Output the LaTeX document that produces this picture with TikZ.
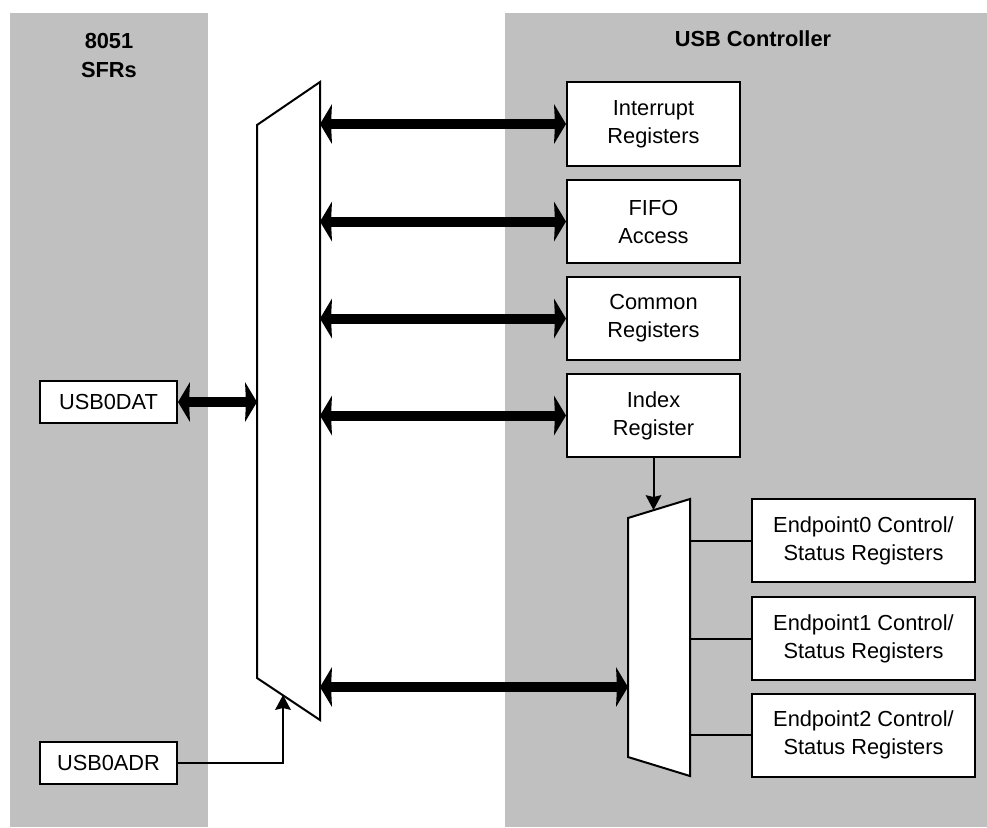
\documentclass[tikz,border=0pt]{standalone}
\usepackage{fontspec}
\setmainfont{Liberation Sans}
\usepackage{tikz}
\usetikzlibrary{arrows.meta}
\usetikzlibrary{positioning}
\definecolor{panelgray}{RGB}{192,192,192}
\tikzstyle{reg_box}=[draw=black, fill=white, line width=1pt, align=center,
    font=\fontsize{10.9}{14}\selectfont]
\tikzstyle{panel_title}=[align=center, font=\fontsize{10.9}{14.5}\selectfont\bfseries]
\tikzstyle{mux_shape}=[draw=black, fill=white, line width=1pt, line join=miter]
\tikzstyle{bus_arrow}=[line width=5pt,
    {Stealth[length=6pt, width=20pt, inset=0.5pt, line width=0pt]}-{Stealth[length=6pt, width=20pt, inset=0.5pt, line width=0pt]}]
\tikzstyle{sel_arrow}=[line width=1pt, -{Stealth[length=7.5pt, width=8pt, inset=1pt, line width=0pt]}]

\begin{document}
\begin{tikzpicture}[x=0.5pt, y=-0.5pt]
          \useasboundingbox (0,0) rectangle (987,827);
          \fill[panelgray] (10,13) rectangle (208,827);
          \fill[panelgray] (505,13) rectangle (987,827);
          \node[panel_title] (sfrtitle) at (109,55) {8051\\SFRs};
          \node[panel_title] (usbtitle) at (753,38.5) {USB Controller};
          % address mux on the SFR side
          \coordinate (bm_tl) at (257,125);
          \coordinate (bm_tr) at (320,82);
          \coordinate (bm_br) at (320,720);
          \coordinate (bm_bl) at (257,678);
          \coordinate (bm_sel) at (283,695);
          \draw[mux_shape] (bm_tl) -- (bm_tr) -- (bm_br) -- (bm_bl) -- cycle;
          % endpoint mux
          \coordinate (sm_tl) at (628,518);
          \coordinate (sm_tr) at (690,499);
          \coordinate (sm_br) at (690,776);
          \coordinate (sm_bl) at (628,757);
          \coordinate (sm_sel) at (653.5,510);
          \coordinate (epbus) at (628,687);
          \draw[mux_shape] (sm_tl) -- (sm_tr) -- (sm_br) -- (sm_bl) -- cycle;
          \node[reg_box, minimum width=68.5pt, minimum height=21pt] (usbdat) at (108.5,402) {USB0DAT};
          \node[reg_box, minimum width=68.5pt, minimum height=21pt] (usbadr) at (108.5,763) {USB0ADR};
          \node[reg_box, minimum width=86.5pt, minimum height=42pt] (irqreg) at (653.5,124) {Interrupt\\Registers};
          \node[reg_box, minimum width=86.5pt, minimum height=41.5pt] (fiforeg) at (653.5,221.5) {FIFO\\Access};
          \node[reg_box, minimum width=86.5pt, minimum height=41.5pt] (commonreg) at (653.5,318.5) {Common\\Registers};
          \node[reg_box, minimum width=86.5pt, minimum height=41.5pt] (indexreg) at (653.5,415.5) {Index\\Register};
          \node[reg_box, minimum width=111.5pt, minimum height=41.5pt] (ep0reg) at (863.5,540.5) {Endpoint0 Control/\\Status Registers};
          \node[reg_box, minimum width=111.5pt, minimum height=41.5pt] (ep1reg) at (863.5,638.5) {Endpoint1 Control/\\Status Registers};
          \node[reg_box, minimum width=111.5pt, minimum height=41.5pt] (ep2reg) at (863.5,735) {Endpoint2 Control/\\Status Registers};
          \draw[bus_arrow] (usbdat.east) -- (usbdat.east -| bm_tl);
          \draw[bus_arrow] (irqreg.west -| bm_tr) -- (irqreg.west);
          \draw[bus_arrow] (fiforeg.west -| bm_tr) -- (fiforeg.west);
          \draw[bus_arrow] (commonreg.west -| bm_tr) -- (commonreg.west);
          \draw[bus_arrow] (indexreg.west -| bm_tr) -- (indexreg.west);
          \draw[bus_arrow] (epbus -| bm_tr) -- (epbus);
          \draw[sel_arrow] (indexreg.south) -- (sm_sel);
          \draw[sel_arrow] (usbadr.east) -| (bm_sel);
          \draw[line width=1pt] (ep0reg.west -| sm_tr) -- (ep0reg.west);
          \draw[line width=1pt] (ep1reg.west -| sm_tr) -- (ep1reg.west);
          \draw[line width=1pt] (ep2reg.west -| sm_tr) -- (ep2reg.west);
        \end{tikzpicture}
\end{document}
